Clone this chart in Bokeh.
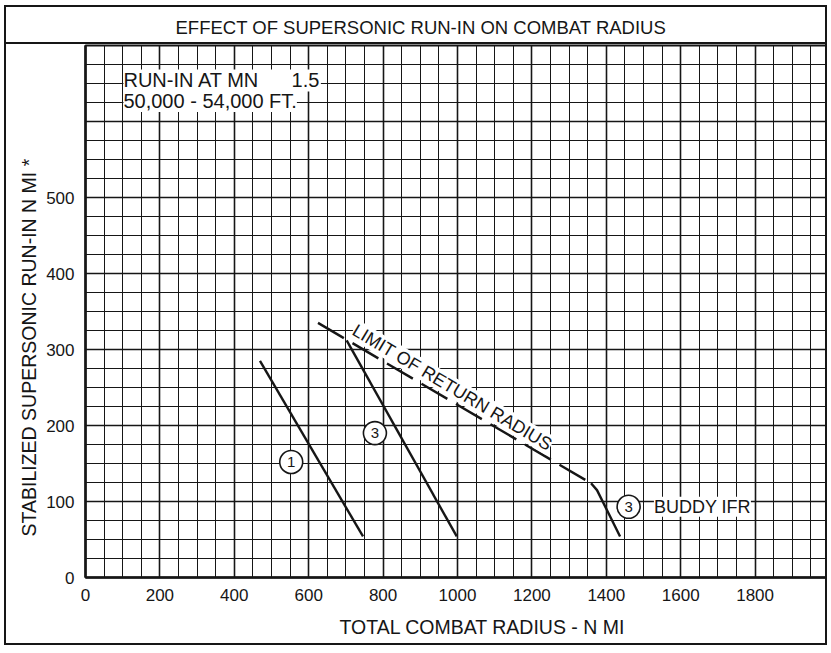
import math
from bokeh.plotting import figure
from bokeh.models import FixedTicker, Label, Title, ColumnDataSource
from bokeh.embed import file_html
from bokeh.resources import INLINE
from bokeh.core.properties import value

# ---- data ----
x_ticks = [0, 200, 400, 600, 800, 1000, 1200, 1400, 1600, 1800]
x_minor = list(range(0, 2001, 50))
y_ticks = [0, 100, 200, 300, 400, 500, 600, 700]
y_minor = list(range(0, 701, 25))
y_label_overrides = {600: "", 700: ""}

curve1_x = [469, 746]
curve1_y = [285, 54]
curve3_x = [702, 998]
curve3_y = [312, 54]
limit_x = [625, 1359]
limit_y = [335, 124]
buddy_x = [1359, 1375, 1437]
buddy_y = [124, 115, 54]

marker_x = [553, 778, 1460]
marker_y = [152, 190, 93]
marker_text = ["1", "3", "3"]

title_text = "EFFECT OF SUPERSONIC RUN-IN ON COMBAT RADIUS"
xlabel_text = "TOTAL COMBAT RADIUS - N MI"
ylabel_text = "STABILIZED SUPERSONIC RUN-IN N MI *"
note1 = "RUN-IN AT MN" + "\u00a0" * 6 + "1.5"
note2 = "50,000 - 54,000 FT."
limit_text = "LIMIT OF RETURN RADIUS"
buddy_text = "BUDDY IFR"

FONT = "Liberation Sans"
INK = "#161616"

W, H = 823, 640
FL, FT, FB = 79, 36, 571   # frame left / top / bottom in canvas px
p = figure(width=W, height=H, x_range=(0, 2000), y_range=(0, 700),
           output_backend="svg", toolbar_location=None,
           min_border_left=FL, min_border_right=0,
           min_border_top=FT, min_border_bottom=H - FB)
p.background_fill_color = "white"
p.border_fill_color = None
p.outline_line_color = INK
p.outline_line_width = 2
p.styles = {
    "margin": "5px 0 0 4px",
    "border": "2px solid #161616",
    "background": "linear-gradient(#161616, #161616) 0 35px / 100% 2px no-repeat, white",
}

xt = FixedTicker(ticks=x_ticks, minor_ticks=x_minor)
yt = FixedTicker(ticks=y_ticks, minor_ticks=y_minor)
p.xaxis.ticker = xt
p.yaxis.ticker = yt
p.xgrid.ticker = xt
p.ygrid.ticker = yt
p.yaxis.major_label_overrides = y_label_overrides

for g in (p.xgrid, p.ygrid):
    g.grid_line_color = INK
    g.grid_line_width = 1.6
    g.grid_line_alpha = 1.0
    g.minor_grid_line_color = INK
    g.minor_grid_line_width = 1.0

for ax in (p.xaxis, p.yaxis):
    ax.axis_line_color = INK
    ax.axis_line_width = 2.5
    ax.major_tick_line_color = None
    ax.minor_tick_line_color = None
    ax.major_label_text_font = FONT
    ax.major_label_text_font_size = "17px"
    ax.major_label_text_color = INK
    ax.major_label_standoff = 5

# ---- titles (chart title and axis titles) ----
p.title.text = title_text
p.title.align = "left"
p.title.offset = 90
p.title.standoff = 15
p.title.text_font = FONT
p.title.text_font_size = "18.5px"
p.title.text_font_style = "normal"
p.title.text_color = INK

xtitle = Title(text=xlabel_text, align="left", offset=254, standoff=20,
               text_font=FONT, text_font_size="19.5px",
               text_font_style="normal", text_color=INK)
p.add_layout(xtitle, "below")
ytitle = Title(text=ylabel_text, align="left", offset=41, standoff=8,
               text_font=FONT, text_font_size="19.5px",
               text_font_style="normal", text_color=INK)
p.add_layout(ytitle, "left")

# ---- curves ----
p.line(curve1_x, curve1_y, line_color=INK, line_width=2.4)
p.line(curve3_x, curve3_y, line_color=INK, line_width=2.4)
p.line(limit_x, limit_y, line_color=INK, line_width=2.4, line_dash="30 10")
p.line(buddy_x, buddy_y, line_color=INK, line_width=2.4)

# ---- circled numbers ----
src = ColumnDataSource(dict(x=marker_x, y=marker_y, t=marker_text))
p.scatter("x", "y", source=src, marker="circle", size=23,
          fill_color="white", line_color=INK, line_width=1.6)
p.text("x", "y", text="t", source=src, text_align="center",
       text_baseline="middle", text_font=value(FONT),
       text_font_size="15px", text_color=INK)

# ---- text annotations inside the chart ----
def lab(x, y, text, size, **kw):
    l = Label(x=x, y=y, text=text, text_font=FONT, text_font_size=size,
              text_color=INK, **kw)
    p.add_layout(l)
    return l

lab(102, 654, note1, "20px", text_align="left", text_baseline="middle",
    background_fill_color="white")
lab(102, 627, note2, "20px", text_align="left", text_baseline="middle",
    background_fill_color="white")
lab(986, 250, limit_text, "18px", text_align="center", text_baseline="middle",
    angle=-0.538, background_fill_color="white")
lab(1528, 93, buddy_text, "18px", text_align="left", text_baseline="middle",
    background_fill_color="white")

open("out.html", "w").write(file_html(p, INLINE))
